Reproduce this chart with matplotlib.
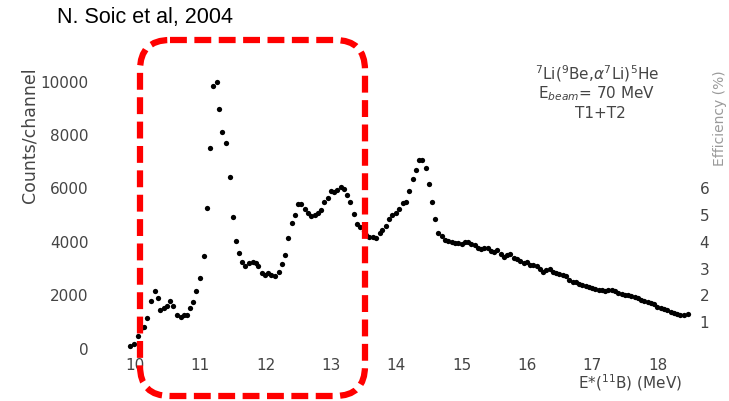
import matplotlib
matplotlib.use("Agg")
import matplotlib.pyplot as plt
from matplotlib.patches import FancyBboxPatch

# E*(11B) in MeV and counts per channel
energy = [9.92, 9.98, 10.04, 10.10, 10.14, 10.19, 10.24, 10.30, 10.35, 10.39, 10.44, 10.49,
          10.54, 10.59, 10.65, 10.70, 10.75, 10.80, 10.84, 10.89, 10.94, 10.99, 11.05, 11.10,
          11.15, 11.19, 11.25, 11.29, 11.34, 11.40, 11.45, 11.50, 11.55, 11.60, 11.64, 11.69,
          11.75, 11.80, 11.85, 11.89, 11.94, 11.99, 12.04, 12.09, 12.15, 12.20, 12.25, 12.30,
          12.35, 12.40, 12.45, 12.50, 12.55, 12.60, 12.65, 12.70, 12.75, 12.80, 12.85, 12.90,
          12.95, 13.00, 13.05, 13.10, 13.15, 13.20, 13.25, 13.30, 13.35, 13.40, 13.45, 13.50,
          13.54, 13.59, 13.64, 13.69, 13.75, 13.79, 13.84, 13.89, 13.94, 14.00, 14.05, 14.10,
          14.15, 14.20, 14.25, 14.30, 14.35, 14.40, 14.46, 14.50, 14.55, 14.59, 14.64, 14.70,
          14.75, 14.80, 14.85, 14.90, 14.95, 15.00, 15.05, 15.10, 15.15, 15.20, 15.25, 15.30,
          15.35, 15.40, 15.45, 15.50, 15.55, 15.60, 15.65, 15.70, 15.75, 15.80, 15.85, 15.90,
          15.95, 16.00, 16.05, 16.10, 16.15, 16.20, 16.25, 16.30, 16.35, 16.40, 16.45, 16.50,
          16.55, 16.60, 16.65, 16.70, 16.75, 16.80, 16.85, 16.90, 16.95, 17.00, 17.05, 17.10,
          17.15, 17.20, 17.25, 17.30, 17.35, 17.40, 17.45, 17.50, 17.55, 17.60, 17.65, 17.70,
          17.75, 17.80, 17.85, 17.90, 17.95, 18.00, 18.05, 18.10, 18.15, 18.20, 18.25, 18.30,
          18.35, 18.40, 18.47]
counts = [120, 190, 480, 800, 840, 1150, 1810, 2180, 1890, 1460, 1520, 1600,
          1810, 1600, 1270, 1180, 1270, 1270, 1545, 1770, 2180, 2640, 3490, 5280,
          7500, 9830, 9990, 8960, 8120, 7690, 6420, 4950, 4040, 3570, 3260, 3100,
          3230, 3260, 3230, 3100, 2830, 2770, 2830, 2770, 2730, 2890, 3170, 3510,
          4140, 4700, 5010, 5420, 5420, 5230, 5100, 4970, 5010, 5100, 5200, 5510,
          5630, 5920, 5880, 5940, 6070, 5980, 5760, 5510, 5050, 4670, 4550, 4400,
          4260, 4200, 4170, 4140, 4320, 4450, 4600, 4850, 5010, 5070, 5220, 5470,
          5510, 5920, 6370, 6690, 7070, 7070, 6750, 6170, 5480, 4850, 4320, 4240,
          4070, 4050, 3990, 3980, 3950, 3940, 3990, 4010, 3930, 3880, 3760, 3730,
          3790, 3760, 3680, 3640, 3700, 3560, 3430, 3500, 3560, 3420, 3350, 3300,
          3230, 3250, 3140, 3150, 3100, 3000, 2890, 2950, 2990, 2880, 2850, 2800,
          2760, 2720, 2580, 2520, 2500, 2430, 2410, 2340, 2320, 2280, 2260, 2220,
          2200, 2180, 2190, 2210, 2170, 2080, 2060, 2030, 2010, 1970, 1950, 1890,
          1850, 1800, 1770, 1720, 1680, 1580, 1520, 1480, 1460, 1400, 1360, 1300,
          1270, 1280, 1290]

x_ticks = [10, 11, 12, 13, 14, 15, 16, 17, 18]
y_ticks = [0, 2000, 4000, 6000, 8000, 10000]
eff_ticks = [1, 2, 3, 4, 5, 6]

grey = "#444444"

fig = plt.figure(figsize=(7.29, 4.01), dpi=100)
ax = fig.add_axes([0.1672, 0.1097, 0.7884, 0.7204])
ax.plot(energy, counts, "o", color="black", markersize=3.8, markeredgewidth=0)
ax.set_xlim(9.8, 18.6)
ax.set_ylim(-300, 10500)
ax.set_xticks(x_ticks)
ax.set_yticks(y_ticks)
ax.tick_params(axis="x", length=0, pad=1, labelsize=11, labelcolor=grey)
ax.tick_params(axis="y", length=0, pad=24, labelsize=11, labelcolor=grey)
for s in ax.spines.values():
    s.set_visible(False)

ax2 = ax.twinx()
ax2.set_ylim(-0.3, 10.5)
ax2.set_yticks(eff_ticks)
ax2.tick_params(axis="y", length=0, pad=2, labelsize=11, labelcolor=grey)
for s in ax2.spines.values():
    s.set_visible(False)

# overlay in pixel units for the annotations and the red box
ov = fig.add_axes([0, 0, 1, 1])
ov.set_xlim(0, 729)
ov.set_ylim(401, 0)
ov.axis("off")
ov.patch.set_alpha(0)

ov.text(57, 18, "N. Soic et al, 2004", fontsize=15.5, ha="left", va="center",
        family=["Liberation Sans Narrow", "Liberation Sans"], color="black")
ov.text(30, 135, "Counts/channel", rotation=90, fontsize=12.5, ha="center", va="center",
        color=grey)
ov.text(597, 74, r"$^{7}$Li($^{9}$Be,$\alpha^{7}$Li)$^{5}$He", fontsize=11,
        ha="center", va="center", color=grey)
ov.text(597, 94, r"E$_{beam}$= 70 MeV", fontsize=11, ha="center", va="center", color=grey)
ov.text(600, 113, "T1+T2", fontsize=11, ha="center", va="center", color=grey)
ov.text(630, 383, r"E*($^{11}$B) (MeV)", fontsize=11, ha="center", va="center", color=grey)
ov.text(720, 118, "Efficiency (%)", rotation=90, fontsize=10, ha="center", va="center",
        color="#9a9a9a")

box = FancyBboxPatch((140, 40), 225, 356, boxstyle="round,pad=0,rounding_size=30",
                     fill=False, edgecolor="#ff0000", linewidth=4.5,
                     linestyle=(0, (2.7, 1.2)), capstyle="butt")
ov.add_patch(box)

fig.savefig("out.png", dpi=100)
